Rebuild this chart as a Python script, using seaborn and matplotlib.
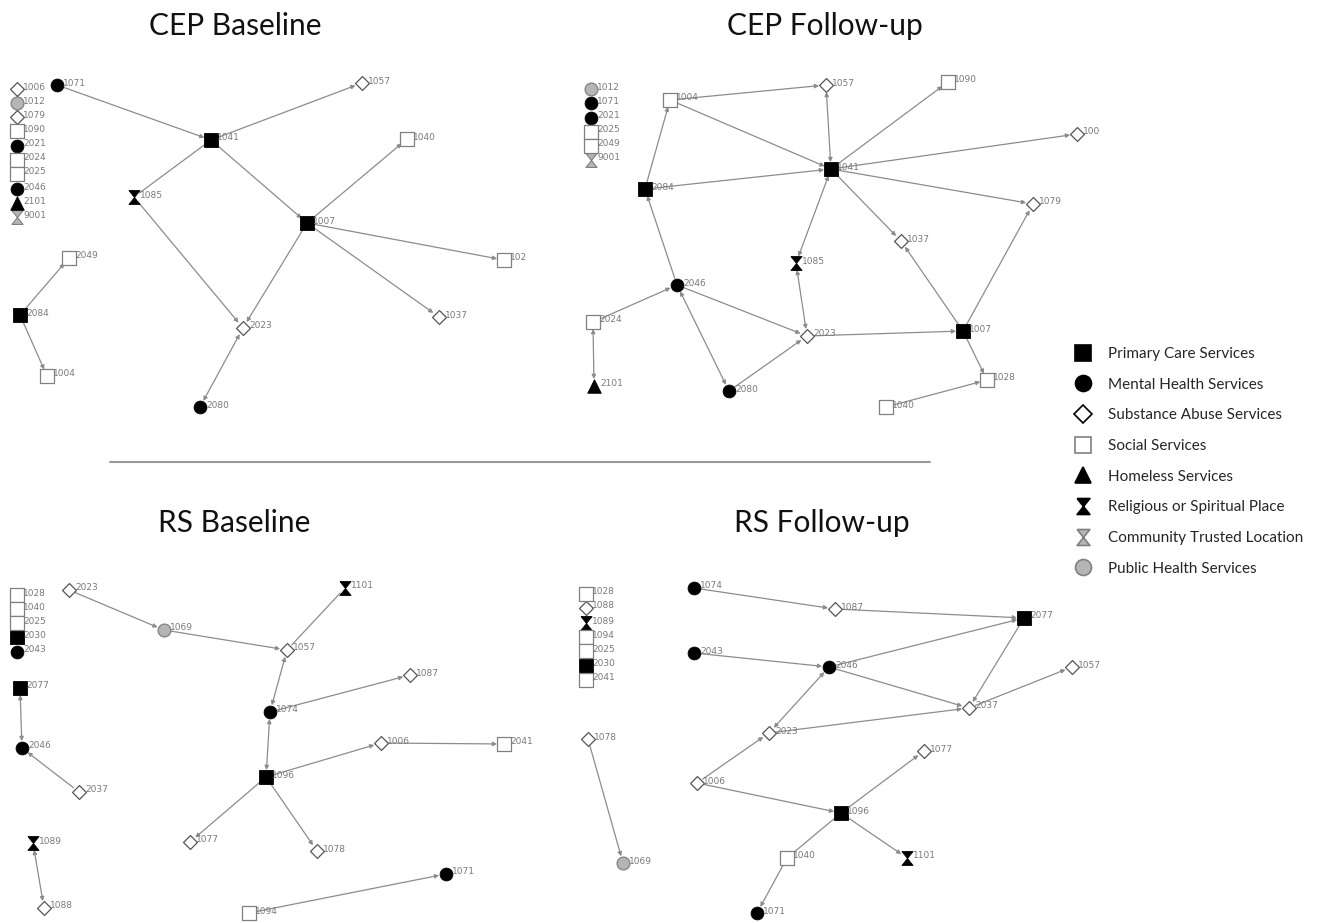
import numpy as np
import pandas as pd
import matplotlib
matplotlib.use("Agg")
import matplotlib.pyplot as plt
from matplotlib.lines import Line2D
from matplotlib.transforms import Bbox, TransformedBbox
import seaborn as sns

# node categories
type_order = ["pc", "mh", "sa", "ss", "hl", "rs", "ct", "ph"]
type_labels = ["Primary Care Services", "Mental Health Services",
               "Substance Abuse Services", "Social Services",
               "Homeless Services", "Religious or Spiritual Place",
               "Community Trusted Location", "Public Health Services"]

titles = ["CEP Baseline", "CEP Follow-up", "RS Baseline", "RS Follow-up"]

# ---- CEP Baseline ----
cepb_ids = [1006, 1012, 1079, 1090, 2021, 2024, 2025, 2046, 2101, 9001,
            1071, 1057, 1041, 1040, 1085, 1007, 1028, 1037, 2023, 2080,
            2049, 2084, 1004]
cepb_types = ["sa", "ph", "sa", "ss", "mh", "ss", "ss", "mh", "hl", "ct",
              "mh", "sa", "pc", "ss", "rs", "pc", "ss", "sa", "sa", "mh",
              "ss", "pc", "ss"]
cepb_x = [17, 17, 17, 17, 17, 17, 17, 17, 17, 17,
          57, 362, 211, 407, 134, 307, 504, 439, 243, 200, 69, 20, 47]
cepb_y = [89, 103, 117, 131, 146, 160, 174, 189, 203, 217,
          85, 83, 140, 139, 197, 223, 260, 317, 328, 407, 258, 315, 376]
cepb_edges = [(1071, 1041, "->"), (1041, 1057, "->"), (1041, 1085, "-"),
              (1041, 1007, "->"), (1085, 2023, "->"), (1007, 2023, "->"),
              (1007, 1040, "->"), (1007, 1028, "->"), (1007, 1037, "->"),
              (2080, 2023, "<->"), (2084, 2049, "->"), (2084, 1004, "->")]

# ---- CEP Follow-up ----
cepf_ids = [1012, 1071, 2021, 2025, 2049, 9001,
            1004, 1057, 1090, 1006, 1041, 2084, 1079, 1037, 1085, 2046,
            2024, 2023, 1007, 2101, 2080, 1028, 1040]
cepf_types = ["ph", "mh", "mh", "ss", "ss", "ct",
              "ss", "sa", "ss", "sa", "pc", "pc", "sa", "sa", "rs", "mh",
              "ss", "sa", "pc", "hl", "mh", "ss", "ss"]
cepf_x = [591, 591, 591, 591, 591, 591,
          670, 826, 948, 1077, 831, 645, 1033, 901, 796, 677,
          593, 807, 963, 594, 729, 987, 886]
cepf_y = [89, 103, 118, 132, 146, 160,
          100, 85, 82, 134, 169, 189, 204, 241, 263, 285,
          322, 336, 331, 386, 391, 380, 407]
cepf_edges = [(1004, 1057, "->"), (1004, 1041, "->"), (2084, 1004, "->"),
              (1041, 1057, "<->"), (1041, 1090, "->"), (1041, 1006, "->"),
              (1041, 1079, "->"), (1041, 1037, "->"), (2084, 1041, "->"),
              (1041, 1085, "<->"), (1085, 2023, "<->"), (2046, 2084, "->"),
              (2024, 2046, "->"), (2046, 2023, "->"), (2046, 2080, "<->"),
              (2080, 2023, "->"), (2023, 1007, "->"), (1007, 1037, "->"),
              (1007, 1079, "->"), (1007, 1028, "->"), (1040, 1028, "->"),
              (2101, 2024, "<->")]

# ---- RS Baseline ----
rsb_ids = [1028, 1040, 2025, 2030, 2043,
           2023, 1069, 1101, 1057, 1087, 2077, 1074, 1006, 2041, 2046,
           1096, 2037, 1077, 1078, 1089, 1071, 1088, 1094]
rsb_types = ["ss", "ss", "ss", "pc", "mh",
             "sa", "ph", "rs", "sa", "sa", "pc", "mh", "sa", "ss", "mh",
             "pc", "sa", "sa", "sa", "rs", "mh", "sa", "ss"]
rsb_x = [17, 17, 17, 17, 17,
         69, 164, 345, 287, 410, 20, 270, 381, 504, 22,
         266, 79, 190, 317, 33, 446, 44, 249]
rsb_y = [595, 609, 623, 637, 652,
         590, 630, 588, 650, 675, 688, 712, 743, 744, 748,
         777, 792, 842, 851, 843, 874, 908, 913]
rsb_edges = [(2023, 1069, "->"), (1069, 1057, "->"), (1101, 1057, "-"),
             (1057, 1074, "<->"), (1074, 1087, "->"), (1096, 1074, "<->"),
             (1096, 1006, "->"), (1006, 2041, "->"), (1096, 1077, "->"),
             (1096, 1078, "->"), (2046, 2077, "<->"), (2037, 2046, "->"),
             (1089, 1088, "<->"), (1094, 1071, "->")]

# ---- RS Follow-up ----
rsf_ids = [1028, 1088, 1089, 1094, 2025, 2030, 2041,
           1074, 1087, 2077, 2043, 2046, 1057, 2037, 2023, 1078,
           1077, 1006, 1096, 1040, 1101, 1069, 1071]
rsf_types = ["ss", "sa", "rs", "ss", "ss", "pc", "ss",
             "mh", "sa", "pc", "mh", "mh", "sa", "sa", "sa", "sa",
             "sa", "sa", "pc", "ss", "rs", "ph", "mh"]
rsf_x = [586, 586, 586, 586, 586, 586, 586,
         694, 835, 1024, 694, 829, 1072, 969, 769, 588,
         924, 697, 841, 787, 907, 623, 757]
rsf_y = [594, 608, 623, 637, 651, 666, 680,
         588, 609, 618, 653, 667, 667, 708, 733, 739,
         751, 783, 813, 858, 858, 863, 913]
rsf_edges = [(1074, 1087, "->"), (1087, 2077, "->"), (2046, 2077, "->"),
             (2043, 2046, "->"), (2046, 2037, "->"), (2077, 2037, "->"),
             (2037, 1057, "->"), (2023, 2037, "->"), (2023, 2046, "<->"),
             (1006, 2023, "->"), (1006, 1096, "->"), (1096, 1077, "->"),
             (1096, 1101, "->"), (1096, 1040, "-"), (1040, 1071, "->"),
             (1078, 1069, "->")]

hourglass = [(-0.8, 1), (0.8, 1), (-0.8, -1), (0.8, -1), (-0.8, 1)]
node_style = {
    "pc": dict(marker="s", s=100, face="black", edge="black", lw=0.6),
    "mh": dict(marker="o", s=85, face="black", edge="black", lw=0.6),
    "sa": dict(marker="D", s=50, face="white", edge="#555555", lw=0.9),
    "ss": dict(marker="s", s=100, face="white", edge="#808080", lw=0.9),
    "hl": dict(marker="^", s=95, face="black", edge="black", lw=0.6),
    "rs": dict(marker=hourglass, s=100, face="black", edge="black", lw=0.6),
    "ct": dict(marker=hourglass, s=100, face="#b5b5b5", edge="#808080", lw=0.8),
    "ph": dict(marker="o", s=85, face="#b5b5b5", edge="#808080", lw=0.9),
}

sns.set_theme(style="white")
plt.rcParams["font.family"] = ["Lato", "DejaVu Sans"]

fig = plt.figure(figsize=(13.27, 9.23), dpi=100)
ax = fig.add_axes([0, 0, 1, 1])


def draw_panel(ids, types, xs, ys, edges, clip_right):
    df = pd.DataFrame({"id": ids, "type": types, "x": xs, "y": ys})
    pos = df.set_index("id")[["x", "y"]]
    for a, b, kind in edges:
        style = {"->": "-|>", "<->": "<|-|>", "-": "-"}[kind]
        ax.annotate("", xy=tuple(pos.loc[b]), xytext=tuple(pos.loc[a]),
                    arrowprops=dict(arrowstyle=style, color="#8c8c8c", lw=0.9,
                                    mutation_scale=6, shrinkA=5, shrinkB=5),
                    zorder=1)
    for t, sub in df.groupby("type"):
        st = node_style[t]
        sns.scatterplot(data=sub, x="x", y="y", marker=st["marker"], s=st["s"],
                        color=st["face"], edgecolor=st["edge"],
                        linewidth=st["lw"], ax=ax, zorder=3, legend=False)
    clip = TransformedBbox(Bbox([[0, 0], [clip_right, 923]]), ax.transData)
    for _, r in df.iterrows():
        txt = ax.text(r["x"] + 6, r["y"] - 2, str(r["id"]), fontsize=6.5,
                      color="#7a7a7a", va="center", ha="left",
                      family="DejaVu Sans", zorder=4)
        txt.set_clip_box(clip)
        txt.set_clip_on(True)


draw_panel(cepb_ids, cepb_types, cepb_x, cepb_y, cepb_edges, 527)
draw_panel(cepf_ids, cepf_types, cepf_x, cepf_y, cepf_edges, 1100)
draw_panel(rsb_ids, rsb_types, rsb_x, rsb_y, rsb_edges, 560)
draw_panel(rsf_ids, rsf_types, rsf_x, rsf_y, rsf_edges, 1327)

# panel titles
for (tx, ty), t in zip([(235, 26), (825, 26), (234, 523), (822, 523)], titles):
    ax.text(tx, ty, t, fontsize=21.5, ha="center", va="center", color="#111111")

# divider
ax.plot([110, 930], [462, 462], color="#9a9a9a", lw=1.5, zorder=0)

# legend
handles = []
for t in type_order:
    st = node_style[t]
    ms = 11.5 if st["marker"] != "D" else 9
    handles.append(Line2D([], [], ls="none", marker=st["marker"], markersize=ms,
                          markerfacecolor=st["face"],
                          markeredgecolor="black" if t == "sa" else st["edge"],
                          markeredgewidth=1.2))
ax.legend(handles, type_labels, loc="upper left", frameon=False,
          bbox_to_anchor=(1068 / 1327, 1 - 341 / 923), fontsize=11,
          labelspacing=1.09, handlelength=1.2, handletextpad=1.0,
          borderaxespad=0)

ax.set_xlim(0, 1327)
ax.set_ylim(923, 0)
ax.axis("off")
fig.savefig("out.png", dpi=100)
